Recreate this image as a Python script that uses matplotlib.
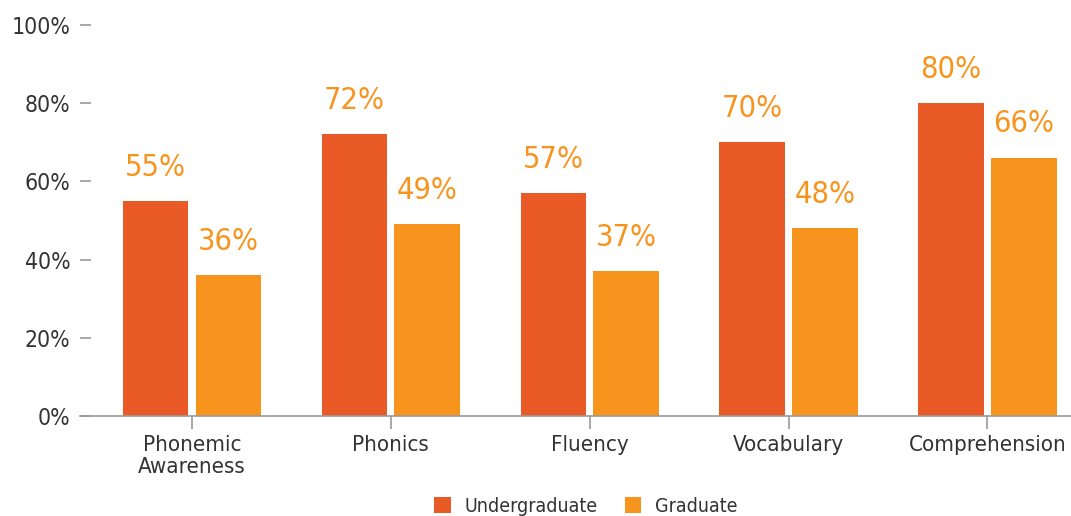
import matplotlib.pyplot as plt
import numpy as np

# Data
categories = ['Phonemic\nAwareness', 'Phonics', 'Fluency', 'Vocabulary', 'Comprehension']
undergraduate = [55, 72, 57, 70, 80]
graduate = [36, 49, 37, 48, 66]
series_names = ['Undergraduate', 'Graduate']
y_ticks = [0, 20, 40, 60, 80, 100]

UG_COLOR = '#E95A27'
GR_COLOR = '#F7941E'
TEXT_COLOR = '#333333'
AXIS_COLOR = '#9a9a9a'

plt.rcParams['font.family'] = ['DejaVu Sans']
plt.rcParams['font.stretch'] = 'condensed'

fig = plt.figure(figsize=(10.71, 5.16), dpi=100)
ax = fig.add_axes([80 / 1071, 1 - 416 / 516, 1 - 80 / 1071, (416 - 25) / 516])

x = np.arange(len(categories))
width = 0.33
offset = 0.183

bars_ug = ax.bar(x - offset, undergraduate, width, color=UG_COLOR, label=series_names[0])
bars_gr = ax.bar(x + offset, graduate, width, color=GR_COLOR, label=series_names[1])

# Value labels above bars
for bars, vals in [(bars_ug, undergraduate), (bars_gr, graduate)]:
    for b, v in zip(bars, vals):
        ax.annotate(f'{v}%', (b.get_x() + b.get_width() / 2, v),
                    xytext=(0, 14), textcoords='offset points',
                    ha='center', va='bottom', fontsize=22, color=GR_COLOR)

ax.set_ylim(0, 100)
ax.set_xlim(-0.563, 4.42)
ax.set_yticks(y_ticks)
ax.set_yticklabels([f'{t}%' for t in y_ticks])
ax.set_xticks(x)
ax.set_xticklabels(categories, linespacing=1.1)

for side in ['top', 'right', 'left']:
    ax.spines[side].set_visible(False)
ax.spines['bottom'].set_color(AXIS_COLOR)
ax.spines['bottom'].set_linewidth(1.2)

ax.tick_params(axis='y', direction='in', length=8, width=1.2, color=AXIS_COLOR,
               pad=7, labelsize=16.5, labelcolor=TEXT_COLOR)
ax.tick_params(axis='x', direction='out', length=9, width=1.2, color=AXIS_COLOR,
               pad=5, labelsize=16, labelcolor=TEXT_COLOR)

# Legend
fig.legend(loc='center', bbox_to_anchor=(586 / 1071, 1 - 506 / 516), ncol=2,
           frameon=False, fontsize=14, handlelength=0.85, handleheight=0.85,
           handletextpad=0.7, columnspacing=1.4, labelcolor=TEXT_COLOR)

plt.savefig('out.png', dpi=100)
